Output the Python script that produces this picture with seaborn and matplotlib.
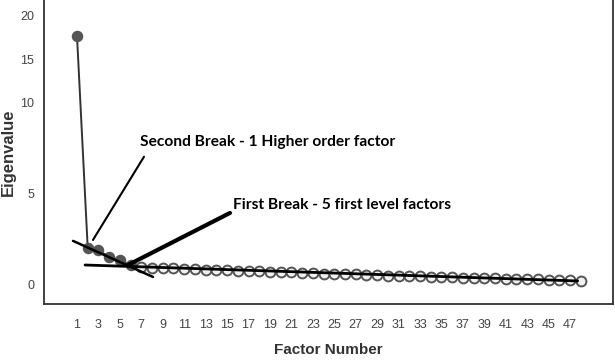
import numpy as np
import pandas as pd
import matplotlib
matplotlib.use('Agg')
import matplotlib.pyplot as plt
import seaborn as sns

# Scree plot values (eigenvalue per factor)
factors = list(range(1, 49))
eigenvalues = [17.7, 2.0, 1.85, 1.5, 1.3, 1.05, 0.93, 0.91, 0.88, 0.86,
               0.84, 0.82, 0.80, 0.78, 0.76, 0.74, 0.72, 0.70, 0.68, 0.66,
               0.64, 0.62, 0.60, 0.58, 0.56, 0.55, 0.53, 0.51, 0.49, 0.47,
               0.46, 0.44, 0.42, 0.41, 0.39, 0.38, 0.36, 0.35, 0.33, 0.32,
               0.30, 0.29, 0.27, 0.26, 0.24, 0.23, 0.21, 0.18]
n_filled = 6
x_ticks = list(range(1, 48, 2))
y_ticks = [0, 5, 10, 15, 20]

# hand drawn break lines (data coords)
second_break_ptr = ([2.49, 7.25], [2.43, 7.02])
first_break_ptr = ([5.76, 15.27], [1.05, 3.92])
steep_line = ([0.63, 8.09], [2.38, 0.39])
flat_line = ([1.75, 47.7], [1.05, 0.17])
second_label = 'Second Break - 1 Higher order factor'
first_label = 'First Break - 5 first level factors'

data = pd.DataFrame({'Factor': factors, 'Eigenvalue': eigenvalues})
data['filled'] = data['Factor'] <= n_filled

sns.set_style('white')

# upper part of the y axis is squeezed in the original picture
def fwd(y):
    y = np.asarray(y, dtype=float)
    return np.where(y <= 10, y, 10 + (y - 10) * 0.48)

def inv(y):
    y = np.asarray(y, dtype=float)
    return np.where(y <= 10, y, 10 + (y - 10) / 0.48)

fig = plt.figure(figsize=(6.15, 3.6), dpi=100)
ax = fig.add_axes([0.0715, 0.1556, 0.9252, 0.8444])
ax.set_yscale('function', functions=(fwd, inv))

sns.lineplot(x='Factor', y='Eigenvalue', data=data, ax=ax, color='#333333', linewidth=1.4)
sns.scatterplot(x='Factor', y='Eigenvalue', data=data[data['filled']], ax=ax,
                color='#555555', edgecolor='#555555', s=50, linewidth=1.2, zorder=3)
sns.scatterplot(x='Factor', y='Eigenvalue', data=data[~data['filled']], ax=ax,
                color='#f2f2f2', edgecolor='#555555', s=50, linewidth=1.4, zorder=3)

# annotation lines
ax.plot(*second_break_ptr, color='black', lw=1.5, zorder=4)
ax.plot(*first_break_ptr, color='black', lw=3, zorder=4)
ax.plot(*steep_line, color='black', lw=1.8, zorder=4)
ax.plot(*flat_line, color='black', lw=2.0, zorder=4)

ax.text(6.88, 7.85, second_label, fontfamily='Lato', fontweight='bold', fontsize=11.2,
        va='center', ha='left', color='black')
ax.text(15.55, 4.36, first_label, fontfamily='Lato', fontweight='bold', fontsize=11.2,
        va='center', ha='left', color='black')

ax.set_xlim(-2.08, 51.0)
ax.set_ylim(-1.1, 21.8)
ax.set_xticks(x_ticks)
ax.set_yticks(y_ticks)
ax.tick_params(axis='both', direction='out', colors='#444444', labelsize=9, width=1.2)
ax.tick_params(axis='x', length=7)
ax.tick_params(axis='y', length=5, pad=2)
for lab in ax.get_xticklabels() + ax.get_yticklabels():
    lab.set_fontfamily('Liberation Sans')

for side in ['left', 'bottom', 'right']:
    ax.spines[side].set_visible(True)
    ax.spines[side].set_color('#333333')
    ax.spines[side].set_linewidth(1.3)
ax.spines['top'].set_visible(False)

ax.set_xlabel('Factor Number', fontfamily='Liberation Sans', fontweight='bold',
              fontsize=11, color='#333333', labelpad=9)
ax.set_ylabel('Eigenvalue', fontfamily='Liberation Sans', fontweight='bold',
              fontsize=12, color='#333333', va='center')
ax.yaxis.set_label_coords(-0.062, 0.5)

plt.savefig('out.png', dpi=100)
